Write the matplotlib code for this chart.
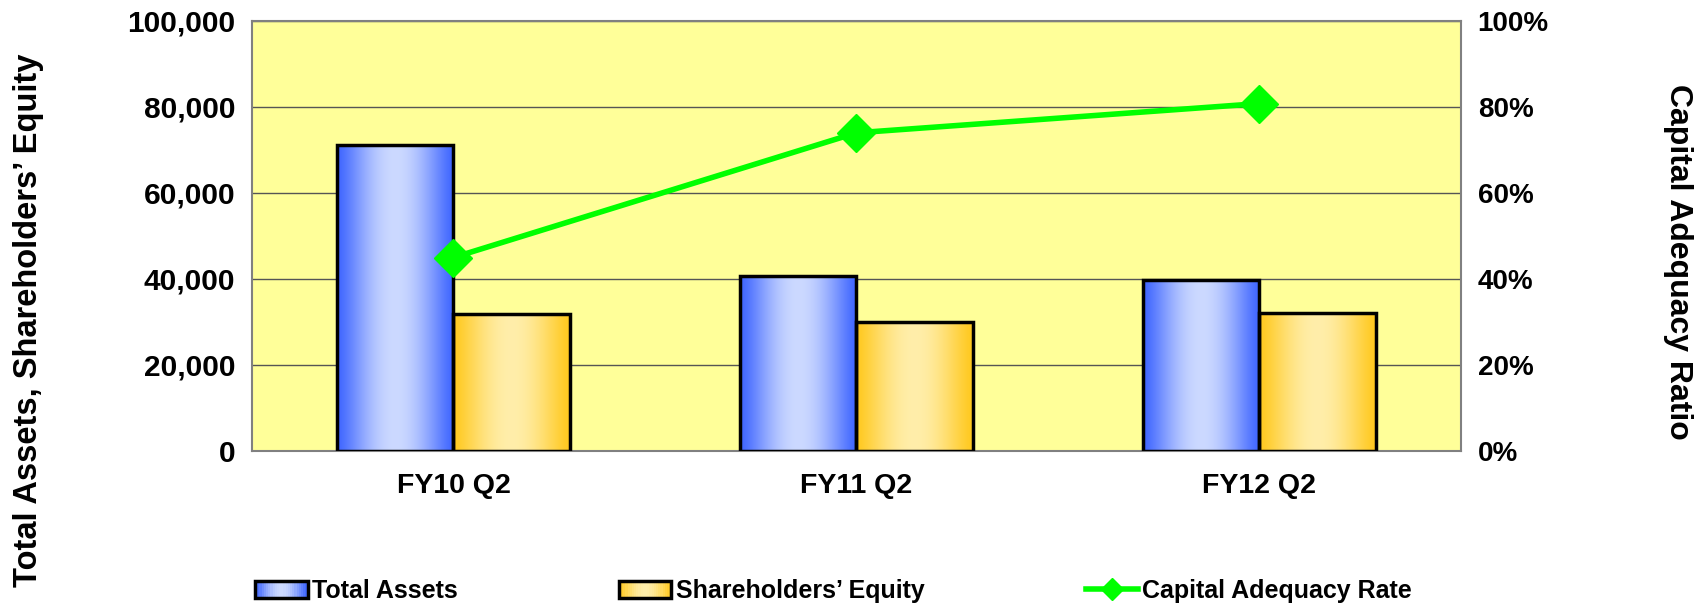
import matplotlib
matplotlib.use("Agg")
import matplotlib.pyplot as plt
import numpy as np
from matplotlib.lines import Line2D
from matplotlib.patches import Patch
from matplotlib.ticker import FuncFormatter, MultipleLocator
from matplotlib.legend_handler import HandlerBase
import matplotlib.patches as mp

categories = ["FY10 Q2", "FY11 Q2", "FY12 Q2"]
total_assets = [71200, 40600, 39800]
shareholders_equity = [31900, 30100, 32100]
capital_adequacy = [45.0, 74.0, 80.8]

plt.rcParams['font.family'] = ['Liberation Sans', 'DejaVu Sans']
plt.rcParams['font.weight'] = 'bold'

W, H = 1695, 603
fig = plt.figure(figsize=(W / 100, H / 100), dpi=100)
ax = fig.add_axes([252 / W, 1 - 451 / H, (1461 - 252) / W, (451 - 21) / H])
ax.set_facecolor('#FFFF99')
ax.set_xlim(-0.5, 2.5)
ax.set_ylim(0, 100000)
ax.yaxis.set_major_locator(MultipleLocator(20000))
ax.yaxis.set_major_formatter(FuncFormatter(lambda v, p: f"{int(v):,}"))
ax.grid(axis='y', color='#555555', linewidth=1.0)
ax.set_axisbelow(True)
for s in ax.spines.values():
    s.set_color('#808080')
    s.set_linewidth(1.5)
ax.tick_params(axis='both', length=0, labelsize=21.5, pad=12)
ax.set_xticks(range(len(categories)))
ax.set_xticklabels(categories, fontsize=20.5, fontweight='bold')
ax.tick_params(axis='x', pad=16)

x = np.arange(len(categories))
w = 0.288


def profile(t):
    return np.clip(np.sin(np.pi * t), 0, 1) ** 1.3


def gradient_fill(bars, dark, light):
    dark = np.array(matplotlib.colors.to_rgb(dark))
    light = np.array(matplotlib.colors.to_rgb(light))
    t = np.linspace(0, 1, 256)
    f = profile(t)
    img = dark[None, :] * (1 - f[:, None]) + light[None, :] * f[:, None]
    img = img[None, :, :]
    for b in bars:
        x0, y0 = b.get_x(), b.get_y()
        bw, bh = b.get_width(), b.get_height()
        im = ax.imshow(img, extent=[x0, x0 + bw, y0, y0 + bh], aspect='auto',
                       zorder=b.get_zorder() - 0.1, interpolation='bilinear')
        im.set_clip_path(b)
        b.set_facecolor('none')


b1 = ax.bar(x - w / 2, total_assets, w, edgecolor='black', linewidth=2.5, zorder=3)
b2 = ax.bar(x + w / 2, shareholders_equity, w, edgecolor='black', linewidth=2.5, zorder=3)
gradient_fill(b1, '#3F66FF', '#CCD9FF')
gradient_fill(b2, '#FFC91F', '#FFEEAA')
ax.set_xlim(-0.5, 2.5)
ax.set_ylim(0, 100000)

ax2 = ax.twinx()
ax2.set_ylim(0, 100)
ax2.yaxis.set_major_locator(MultipleLocator(20))
ax2.yaxis.set_major_formatter(FuncFormatter(lambda v, p: f"{int(v)}%"))
ax2.tick_params(axis='y', length=0, labelsize=20, pad=12)
for s in ax2.spines.values():
    s.set_visible(False)
ax2.plot(x, capital_adequacy, color='#00FF00', linewidth=4, marker='D',
         markersize=19, zorder=5)

fig.text(29 / W, 1 - 320 / H, "Total Assets, Shareholders’ Equity", rotation=90,
         ha='center', va='center', fontsize=23.5, fontweight='bold')
fig.text(1678 / W, 1 - 262 / H, "Capital Adequacy Ratio", rotation=270,
         ha='center', va='center', fontsize=23, fontweight='bold')


class GradHandler(HandlerBase):
    def __init__(self, dark, light):
        super().__init__()
        self.dark, self.light = dark, light

    def create_artists(self, legend, orig_handle, xdescent, ydescent, width, height, fontsize, trans):
        dark = np.array(matplotlib.colors.to_rgb(self.dark))
        light = np.array(matplotlib.colors.to_rgb(self.light))
        n = 24
        arts = []
        for i in range(n):
            t = (i + 0.5) / n
            f = profile(t)
            c = dark * (1 - f) + light * f
            r = mp.Rectangle((-xdescent + width * i / n, -ydescent), width / n + 0.3, height,
                             facecolor=c, edgecolor='none', transform=trans)
            arts.append(r)
        border = mp.Rectangle((-xdescent, -ydescent), width, height, facecolor='none',
                              edgecolor='black', linewidth=2.5, transform=trans)
        arts.append(border)
        return arts


h1 = Patch(label='Total Assets')
h2 = Patch(label='Shareholders’ Equity')
h3 = Line2D([], [], color='#00FF00', linewidth=4, marker='D', markersize=11,
            label='Capital Adequacy Rate')
leg = fig.legend(handles=[h1, h2, h3], loc='center left',
                 bbox_to_anchor=(255 / W, 1 - 591 / H), ncol=3, frameon=False,
                 prop={'weight': 'bold', 'size': 18},
                 handlelength=2.1, handletextpad=0.17, columnspacing=6.45,
                 borderpad=0, borderaxespad=0,
                 handler_map={h1: GradHandler('#3F66FF', '#CCD9FF'),
                              h2: GradHandler('#FFC91F', '#FFEEAA')})

fig.savefig('out.png', dpi=100)
